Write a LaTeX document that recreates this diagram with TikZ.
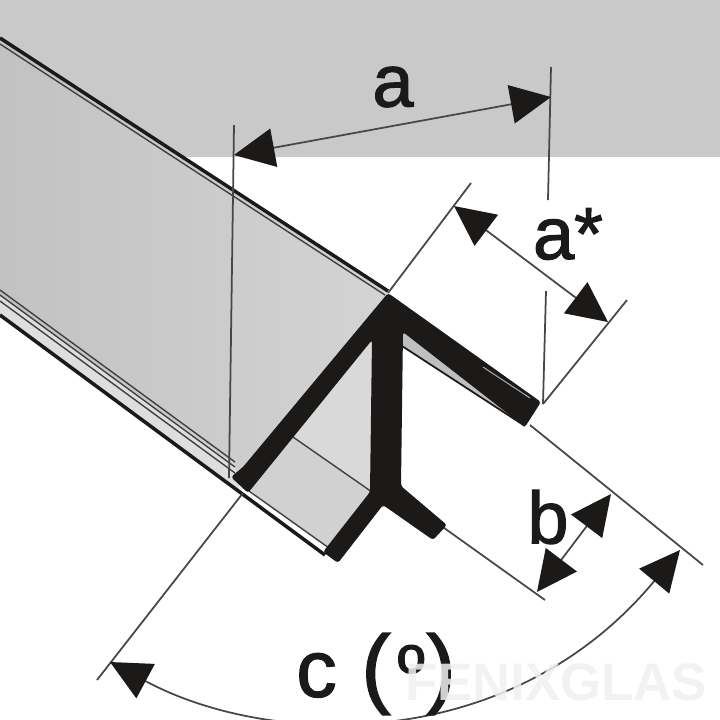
\documentclass[tikz,border=0pt]{standalone}
\usepackage{fontspec}
\setmainfont{Liberation Sans}
\newfontfamily\dimfont[FakeBold=1.6]{Liberation Sans}
\usetikzlibrary{arrows.meta}
\definecolor{bandgray}{HTML}{C9C9C9}
\definecolor{profile}{HTML}{1C1A18}
\tikzset{
  dimline/.style={line width=0.5pt,draw=black!72},
  edgeline/.style={line width=0.4pt,draw=black!75},
  dimarrow/.style={dimline,{Triangle[length=11.5pt,width=11pt,color=profile,fill=profile]}-{Triangle[length=11.5pt,width=11pt,color=profile,fill=profile]}},
  dimtext/.style={text=profile,inner sep=0pt,font=\dimfont\fontsize{21}{21}\selectfont}
}
\begin{document}
\begin{tikzpicture}[x=0.01cm,y=-0.01cm]%one unit is one pixel of the reference
      \useasboundingbox (0,0) rectangle (720,720);
      \fill[bandgray] (0,0) rectangle (720,157);

      % faces of the profile
      \shade[left color=black!24,right color=black!17] (0,40) -- (388,293) -- (240,478) -- (0,300) -- cycle;
      \fill[black!13] (0,295) -- (235,465) -- (240,492) -- (0,315) -- cycle;
      \fill[black!15] (293,437) -- (372,340) -- (372,492) -- cycle;
      \fill[black!18] (250,490) -- (293,437) -- (372,492) -- (325,550) -- cycle;
      \fill[black!25] (402,330) -- (402,346) -- (525,426) -- (500,390) -- cycle;
      \fill[white] (245,495) -- (249,491) -- (329,548) -- (325,553) -- cycle;

      % edges of the profile
      \draw[profile,line width=1pt] (0,38) -- (388,291);
      \draw[edgeline] (0,44) -- (385,295);
      \draw[edgeline] (0,290) -- (235,462);
      \draw[edgeline] (0,295) -- (235,467);
      \draw[edgeline] (0,301) -- (235,473);
      \draw[profile,line width=1pt] (0,315) -- (325,555);
      \draw[edgeline] (249,491) -- (329,548);
      \draw[edgeline] (293,437) -- (372,492);
      \draw[profile,line width=0.5pt] (402,346) -- (525,426);

      % named points of the dimensions
      \coordinate (apex) at (388,293);
      \coordinate (foot) at (243,493);
      \coordinate (tip) at (530,425);
      \coordinate (wing) at (440,525);
      \coordinate (aLeftTop) at (234,125);
      \coordinate (aLeftEnd) at (229,478);
      \coordinate (aRightTop) at (551,67);
      \coordinate (aRightEnd) at (548,200);
      \coordinate (aLowTop) at (546,291);
      \coordinate (aLowEnd) at (543,404);
      \coordinate (aTipL) at (234,155);
      \coordinate (aTipR) at (551,97);
      \coordinate (starTop) at (471,183);
      \coordinate (starEnd) at (627,300);
      \coordinate (starTipL) at (454,206);
      \coordinate (starTipR) at (608,322);
      \coordinate (cLeftEnd) at (97,680);
      \coordinate (cRightEnd) at (703,565);
      \coordinate (cTipL) at (110,662);
      \coordinate (cTipR) at (680,550);
      \coordinate (bEnd) at (545,600);
      \coordinate (bTipL) at (537,592);
      \coordinate (bTipR) at (611,494);

      % extension lines
      \draw[dimline] (aLeftTop) -- (aLeftEnd);
      \draw[dimline] (aRightTop) -- (aRightEnd);
      \draw[dimline] (aLowTop) -- (aLowEnd);
      \draw[dimline] (apex) -- (starTop);
      \draw[dimline] (aLowEnd) -- (starEnd);
      \draw[dimline] (foot) -- (cLeftEnd);
      \draw[dimline] (tip) -- (cRightEnd);
      \draw[dimline] (wing) -- (bEnd);

      % dimension arrows
      \draw[dimarrow] (aTipL) -- (aTipR);
      \draw[dimarrow] (starTipL) -- (starTipR);
      \draw[dimarrow] (bTipL) -- (bTipR);
      \draw[dimarrow] (cTipL) .. controls (270,748) and (510,755) .. (cTipR);

      % section of the profile
      \fill[profile,rounded corners=0.8pt] (388,293) -- (541,402) -- (525,427) -- (403,332)
        -- (401,486) -- (447,525) -- (433,540) -- (383,505) -- (338,563) -- (323,552)
        -- (370,492) -- (372,340) -- (248,493) -- (231,477) -- (243,467) -- cycle;
      \draw[white!65!black,line width=0.3pt] (483,367) -- (530,398);

      % labels
      \node[dimtext] (labelA) at (393,87) {a};
      \node[dimtext] (labelStar) at (568,234) {a*};
      \node[dimtext] (labelB) at (548,517) {b};
      \node[dimtext] (labelC) at (376,674) {{\fontsize{23}{23}\selectfont c}\hspace{7pt}{\fontsize{25}{25}\selectfont(}\hspace{2pt}º\hspace{0.5pt}{\fontsize{25}{25}\selectfont)}};
      \node[inner sep=0pt,text=black!6,text opacity=0.85,font=\bfseries\fontsize{15}{15}\selectfont] (mark) at (556,682) {FENIXGLAS};
\end{tikzpicture}
\end{document}
